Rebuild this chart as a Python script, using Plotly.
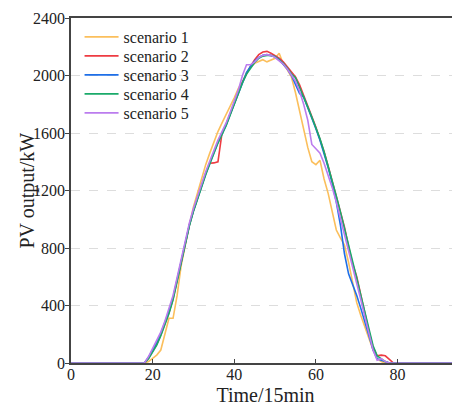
import plotly.graph_objects as go

time_idx = list(range(96))

scenario_1 = [0]*19 + [10, 30, 55, 90, 200, 311, 311, 470, 680, 830,
              960, 1085, 1190, 1290, 1380, 1460, 1540, 1610, 1670, 1725,
              1785, 1845, 1910, 1955, 2020, 2060, 2085, 2100, 2110, 2095,
              2110, 2120, 2155, 2080, 2040, 1990, 1880, 1750, 1620, 1500,
              1400, 1380, 1410, 1280, 1180, 1050, 925, 870, 820, 700,
              560, 420, 330, 250, 170, 90, 30, 10, 0] + [0]*18

scenario_2 = [0]*19 + [35, 80, 130, 195, 270, 350, 445, 575, 715, 845,
              960, 1060, 1150, 1240, 1320, 1390, 1392, 1400, 1600, 1660,
              1730, 1805, 1880, 1955, 2015, 2065, 2110, 2145, 2163, 2168,
              2155, 2140, 2120, 2095, 2060, 2025, 1990, 1935, 1865, 1790,
              1715, 1640, 1560, 1470, 1370, 1265, 1165, 1060, 945, 810,
              690, 600, 470, 340, 220, 110, 50, 55, 50, 25, 0] + [0]*16

scenario_3 = [0]*19 + [40, 90, 140, 205, 280, 360, 455, 580, 715, 845,
              960, 1060, 1150, 1235, 1315, 1390, 1465, 1535, 1595, 1655,
              1730, 1805, 1880, 1955, 2020, 2065, 2100, 2125, 2140, 2145,
              2140, 2130, 2110, 2080, 2045, 2000, 1935, 1875, 1850, 1780,
              1705, 1630, 1550, 1460, 1360, 1250, 1120, 960, 760, 620,
              545, 470, 380, 290, 190, 90, 30, 20, 8, 0] + [0]*17

scenario_4 = [0]*19 + [30, 75, 125, 190, 265, 345, 440, 570, 710, 840,
              955, 1055, 1145, 1230, 1310, 1385, 1460, 1530, 1590, 1650,
              1725, 1800, 1875, 1950, 2010, 2050, 2090, 2120, 2135, 2140,
              2140, 2130, 2110, 2085, 2050, 2010, 1985, 1920, 1850, 1780,
              1710, 1635, 1560, 1470, 1370, 1265, 1160, 1050, 940, 830,
              710, 590, 470, 350, 230, 120, 50, 30, 10, 0] + [0]*17

scenario_5 = [0]*19 + [45, 100, 150, 215, 290, 375, 470, 595, 730, 860,
              975, 1075, 1165, 1250, 1330, 1405, 1480, 1550, 1610, 1670,
              1745, 1820, 1900, 2000, 2075, 2075, 2095, 2125, 2140, 2145,
              2140, 2125, 2105, 2080, 2045, 2005, 1960, 1890, 1800, 1690,
              1520, 1490, 1460, 1390, 1310, 1220, 1120, 1010, 890, 780,
              670, 560, 440, 320, 200, 90, 20, 30, 10, 0] + [0]*17

names = ["scenario 1", "scenario 2", "scenario 3", "scenario 4", "scenario 5"]
colors = ["#FBBF5C", "#EE3B42", "#1E6FE8", "#1AAA6A", "#BB7CEE"]
series = [scenario_1, scenario_2, scenario_3, scenario_4, scenario_5]

y_ticks = [0, 400, 800, 1200, 1600, 2000, 2400]
x_ticks = [0, 20, 40, 60, 80]

FONT = "Liberation Serif, Times New Roman, serif"

# page body adds an 8px offset, so the figure is 8px smaller than the window
W, H = 452, 401
ML, MT, MB = 63, 10, 46
plot_h = H - MT - MB

fig = go.Figure()
legend_keys = ["legend", "legend2", "legend3", "legend4", "legend5"]
for i, (n, c, s) in enumerate(zip(names, colors, series)):
    fig.add_trace(go.Scatter(x=time_idx, y=s, mode="lines", name=n,
                             line=dict(color=c, width=1.6),
                             legend=legend_keys[i]))

legend_layout = {}
for i, key in enumerate(legend_keys):
    centre_px = 19 + 19 * i  # distance from plot top to entry centre
    legend_layout[key] = dict(
        x=0.022, y=1 - centre_px / plot_h, xanchor="left", yanchor="middle",
        bgcolor="rgba(0,0,0,0)", font=dict(size=16, family=FONT, color="#222"),
        itemwidth=34, borderwidth=0)

fig.update_layout(
    width=W, height=H,
    margin=dict(l=ML, r=0, t=MT, b=MB),
    paper_bgcolor="white", plot_bgcolor="white",
    font=dict(family=FONT, size=16, color="#222"),
    showlegend=True,
    **legend_layout,
    annotations=[dict(text="PV output/kW", textangle=-90, xref="paper", yref="paper",
                      x=0, y=0.5, xanchor="center", yanchor="middle", xshift=-44,
                      showarrow=False, font=dict(size=20, family=FONT, color="#222"))],
)
fig.update_xaxes(range=[0, 95.3], tickvals=x_ticks, ticks="inside", ticklen=4,
                 showline=True, linecolor="#444", linewidth=1.5, mirror=True,
                 showgrid=False, zeroline=False, ticklabelstandoff=-4,
                 title=dict(text="Time/15min", font=dict(size=20), standoff=6),
                 tickfont=dict(size=16))
fig.update_yaxes(range=[0, 2400], tickvals=y_ticks, ticks="outside", ticklen=4,
                 showline=True, linecolor="#444", linewidth=1.5,
                 showgrid=True, gridcolor="#DDDDDD", griddash="dash", gridwidth=1,
                 zeroline=False, ticklabelstandoff=-3,
                 tickfont=dict(size=16))

fig.write_html("out.html")
